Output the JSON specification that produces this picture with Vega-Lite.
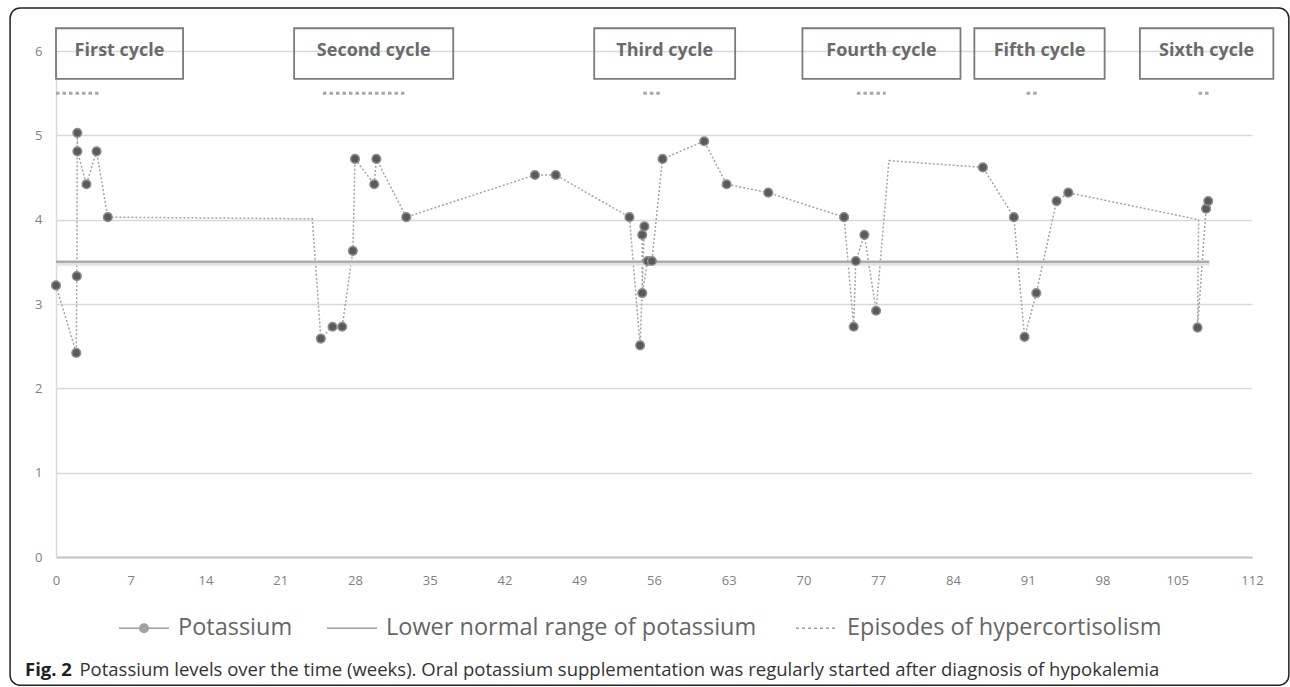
{
  "$schema": "https://vega.github.io/schema/vega-lite/v6.json",
  "width": 1196,
  "height": 506,
  "autosize": {"type": "none"},
  "padding": {"left": 56, "top": 51, "right": 38, "bottom": 130},
  "background": "white",
  "config": {"view": {"stroke": null}, "font": "Open Sans"},
  "datasets": {
    "potassium": [
      {"seq": 1, "week": 0, "k": 3.22, "marker": true},
      {"seq": 2, "week": 1.9, "k": 2.42, "marker": true},
      {"seq": 3, "week": 1.95, "k": 3.33, "marker": true},
      {"seq": 4, "week": 2.0, "k": 5.03, "marker": true},
      {"seq": 5, "week": 2.0, "k": 4.81, "marker": true},
      {"seq": 6, "week": 2.85, "k": 4.42, "marker": true},
      {"seq": 7, "week": 3.8, "k": 4.81, "marker": true},
      {"seq": 8, "week": 4.85, "k": 4.03, "marker": true},
      {"seq": 9, "week": 24.0, "k": 4.01, "marker": false},
      {"seq": 10, "week": 24.8, "k": 2.59, "marker": true},
      {"seq": 11, "week": 25.9, "k": 2.73, "marker": true},
      {"seq": 12, "week": 26.8, "k": 2.73, "marker": true},
      {"seq": 13, "week": 27.8, "k": 3.63, "marker": true},
      {"seq": 14, "week": 28.0, "k": 4.72, "marker": true},
      {"seq": 15, "week": 29.8, "k": 4.42, "marker": true},
      {"seq": 16, "week": 30.0, "k": 4.72, "marker": true},
      {"seq": 17, "week": 32.8, "k": 4.03, "marker": true},
      {"seq": 18, "week": 44.85, "k": 4.53, "marker": true},
      {"seq": 19, "week": 46.8, "k": 4.53, "marker": true},
      {"seq": 20, "week": 53.7, "k": 4.03, "marker": true},
      {"seq": 21, "week": 54.7, "k": 2.51, "marker": true},
      {"seq": 22, "week": 55.1, "k": 3.92, "marker": true},
      {"seq": 23, "week": 54.9, "k": 3.82, "marker": true},
      {"seq": 24, "week": 54.9, "k": 3.13, "marker": true},
      {"seq": 25, "week": 55.4, "k": 3.51, "marker": true},
      {"seq": 26, "week": 55.8, "k": 3.51, "marker": true},
      {"seq": 27, "week": 56.8, "k": 4.72, "marker": true},
      {"seq": 28, "week": 60.7, "k": 4.93, "marker": true},
      {"seq": 29, "week": 62.8, "k": 4.42, "marker": true},
      {"seq": 30, "week": 66.7, "k": 4.32, "marker": true},
      {"seq": 31, "week": 73.8, "k": 4.03, "marker": true},
      {"seq": 32, "week": 74.7, "k": 2.73, "marker": true},
      {"seq": 33, "week": 74.9, "k": 3.51, "marker": true},
      {"seq": 34, "week": 75.7, "k": 3.82, "marker": true},
      {"seq": 35, "week": 76.8, "k": 2.92, "marker": true},
      {"seq": 36, "week": 78.0, "k": 4.7, "marker": false},
      {"seq": 37, "week": 86.8, "k": 4.62, "marker": true},
      {"seq": 38, "week": 89.7, "k": 4.03, "marker": true},
      {"seq": 39, "week": 90.7, "k": 2.61, "marker": true},
      {"seq": 40, "week": 91.8, "k": 3.13, "marker": true},
      {"seq": 41, "week": 93.7, "k": 4.22, "marker": true},
      {"seq": 42, "week": 94.8, "k": 4.32, "marker": true},
      {"seq": 43, "week": 107.0, "k": 4.0, "marker": false},
      {"seq": 44, "week": 106.9, "k": 2.72, "marker": true},
      {"seq": 45, "week": 107.7, "k": 4.13, "marker": true},
      {"seq": 46, "week": 107.9, "k": 4.22, "marker": true}
    ],
    "lowerNormal": [
      {"week": 0, "k": 3.5},
      {"week": 108, "k": 3.5}
    ],
    "episodes": [
      {"cycle": "First cycle", "start": 0, "end": 4.0},
      {"cycle": "Second cycle", "start": 25.0, "end": 32.9},
      {"cycle": "Third cycle", "start": 55.0, "end": 56.8},
      {"cycle": "Fourth cycle", "start": 75.0, "end": 77.7},
      {"cycle": "Fifth cycle", "start": 90.9, "end": 91.9},
      {"cycle": "Sixth cycle", "start": 107.0, "end": 108.0}
    ],
    "cycles": [
      {"label": "First cycle", "start": 0, "end": 11.9},
      {"label": "Second cycle", "start": 22.3, "end": 37.2},
      {"label": "Third cycle", "start": 50.4, "end": 63.6},
      {"label": "Fourth cycle", "start": 69.9, "end": 84.7},
      {"label": "Fifth cycle", "start": 86.0, "end": 98.2},
      {"label": "Sixth cycle", "start": 101.5, "end": 114.0}
    ],
    "series": [
      {"series": "Potassium"},
      {"series": "Lower normal range of potassium"},
      {"series": "Episodes of hypercortisolism"}
    ]
  },
  "layer": [
    {
      "data": {"values": [{}]},
      "mark": {"type": "rect", "fill": "transparent", "stroke": "#222222", "strokeWidth": 1.5, "cornerRadius": 10},
      "encoding": {
        "x": {"datum": -4.3, "type": "quantitative", "scale": {"domain": [0, 112], "nice": false, "zero": false}, "title": null},
        "x2": {"datum": 115.45},
        "y": {"datum": 6.51, "type": "quantitative", "scale": {"domain": [0, 6], "nice": false, "zero": false}, "title": null},
        "y2": {"datum": -1.52}
      }
    },
    {
      "data": {"name": "potassium"},
      "mark": {"type": "line", "color": "#a3a3a3", "strokeWidth": 1.5, "strokeDash": [2, 2]},
      "encoding": {
        "x": {
          "field": "week", "type": "quantitative", "title": null,
          "scale": {"domain": [0, 112], "nice": false, "zero": false},
          "axis": {
            "values": [0, 7, 14, 21, 28, 35, 42, 49, 56, 63, 70, 77, 84, 91, 98, 105, 112],
            "format": "d",
            "grid": false, "ticks": false, "domain": true, "domainColor": "#c4c4c4", "domainWidth": 2,
            "labelColor": "#808080", "labelFontSize": 13, "labelPadding": 17, "labelFont": "Open Sans", "labelFlush": false
          }
        },
        "y": {
          "field": "k", "type": "quantitative", "title": null,
          "scale": {"domain": [0, 6], "nice": false, "zero": false},
          "axis": {
            "values": [0, 1, 2, 3, 4, 5, 6],
            "format": "d",
            "grid": true, "gridColor": "#d9d9d9", "gridWidth": 1.5, "ticks": false,
            "domain": true, "domainColor": "#d9d9d9", "domainWidth": 1.5,
            "labelColor": "#808080", "labelFontSize": 13, "labelPadding": 14, "labelFont": "Open Sans"
          }
        },
        "order": {"field": "seq", "type": "quantitative"}
      }
    },
    {
      "data": {"name": "lowerNormal"},
      "mark": {"type": "line", "color": "#e3e3e3", "strokeWidth": 4, "yOffset": 2},
      "encoding": {
        "x": {"field": "week", "type": "quantitative", "title": null, "scale": {"domain": [0, 112], "nice": false, "zero": false}},
        "y": {"field": "k", "type": "quantitative", "title": null, "scale": {"domain": [0, 6], "nice": false, "zero": false}}
      }
    },
    {
      "data": {"name": "lowerNormal"},
      "mark": {"type": "line", "color": "#acacac", "strokeWidth": 2.5},
      "encoding": {
        "x": {"field": "week", "type": "quantitative", "title": null, "scale": {"domain": [0, 112], "nice": false, "zero": false}},
        "y": {"field": "k", "type": "quantitative", "title": null, "scale": {"domain": [0, 6], "nice": false, "zero": false}}
      }
    },
    {
      "data": {"name": "episodes"},
      "mark": {"type": "rule", "color": "#a8a8a8", "strokeWidth": 3, "strokeDash": [3.5, 3]},
      "encoding": {
        "x": {"field": "start", "type": "quantitative", "title": null, "scale": {"domain": [0, 112], "nice": false, "zero": false}},
        "x2": {"field": "end"},
        "y": {"datum": 5.5, "type": "quantitative", "title": null, "scale": {"domain": [0, 6], "nice": false, "zero": false}}
      }
    },
    {
      "data": {"name": "potassium"},
      "transform": [{"filter": "datum.marker"}],
      "mark": {"type": "point", "filled": true, "fill": "#5a5a5a", "stroke": "#8e8e8e", "strokeWidth": 1.5, "size": 75, "opacity": 1},
      "encoding": {
        "x": {"field": "week", "type": "quantitative", "title": null, "scale": {"domain": [0, 112], "nice": false, "zero": false}},
        "y": {"field": "k", "type": "quantitative", "title": null, "scale": {"domain": [0, 6], "nice": false, "zero": false}}
      }
    },
    {
      "data": {"name": "cycles"},
      "mark": {"type": "rect", "fill": "transparent", "stroke": "#7a7a7a", "strokeWidth": 1.8},
      "encoding": {
        "x": {"field": "start", "type": "quantitative", "title": null, "scale": {"domain": [0, 112], "nice": false, "zero": false}},
        "x2": {"field": "end"},
        "y": {"datum": 6.27, "type": "quantitative", "title": null, "scale": {"domain": [0, 6], "nice": false, "zero": false}},
        "y2": {"datum": 5.67}
      }
    },
    {
      "data": {"name": "cycles"},
      "transform": [{"calculate": "(datum.start + datum.end) / 2", "as": "mid"}],
      "mark": {"type": "text", "font": "Open Sans", "fontWeight": "bold", "fontSize": 18, "color": "#6a6a6a", "align": "center", "baseline": "middle"},
      "encoding": {
        "x": {"field": "mid", "type": "quantitative", "title": null, "scale": {"domain": [0, 112], "nice": false, "zero": false}},
        "y": {"datum": 6.0, "type": "quantitative", "title": null, "scale": {"domain": [0, 6], "nice": false, "zero": false}},
        "text": {"field": "label"}
      }
    },
    {
      "data": {"values": [{}]},
      "mark": {"type": "text", "text": "Fig. 2", "font": "Open Sans", "fontWeight": "bold", "fontSize": 18.5, "color": "#1f1f1f", "align": "left", "baseline": "middle"},
      "encoding": {
        "x": {"datum": -2.9, "type": "quantitative", "title": null, "scale": {"domain": [0, 112], "nice": false, "zero": false}},
        "y": {"datum": -1.34, "type": "quantitative", "title": null, "scale": {"domain": [0, 6], "nice": false, "zero": false}}
      }
    },
    {
      "data": {"values": [{}]},
      "mark": {"type": "text", "text": "Potassium levels over the time (weeks). Oral potassium supplementation was regularly started after diagnosis of hypokalemia", "font": "Open Sans", "fontSize": 18.5, "color": "#333333", "align": "left", "baseline": "middle"},
      "encoding": {
        "x": {"datum": 2.2, "type": "quantitative", "title": null, "scale": {"domain": [0, 112], "nice": false, "zero": false}},
        "y": {"datum": -1.34, "type": "quantitative", "title": null, "scale": {"domain": [0, 6], "nice": false, "zero": false}}
      }
    },
    {
      "data": {"name": "series"},
      "transform": [{"filter": "false"}],
      "mark": {"type": "point", "filled": false, "stroke": "#a0a0a0", "strokeWidth": 1.6},
      "encoding": {
        "shape": {
          "field": "series", "type": "nominal",
          "scale": {
            "domain": ["Potassium", "Lower normal range of potassium", "Episodes of hypercortisolism"],
            "range": [
              "M-1,0H-0.17M0.17,0H1M-0.17,0A0.17,0.17,0,1,1,0.17,0A0.17,0.17,0,1,1,-0.17,0ZM-0.11,0A0.11,0.11,0,1,1,0.11,0A0.11,0.11,0,1,1,-0.11,0ZM-0.05,0A0.05,0.05,0,1,1,0.05,0A0.05,0.05,0,1,1,-0.05,0Z",
              "M-1,0H1",
              "M-0.68,0H-0.56M-0.44,0H-0.32M-0.2,0H-0.08M0.04,0H0.16M0.28,0H0.4M0.52,0H0.64M0.76,0H0.88"
            ]
          },
          "legend": {
            "title": null, "orient": "none", "legendX": 62, "legendY": 551, "direction": "horizontal",
            "symbolSize": 2500, "symbolStrokeColor": "#a0a0a0", "symbolStrokeWidth": 1.6, "symbolOpacity": 1,
            "labelFont": "Open Sans", "labelFontSize": 23.5, "labelColor": "#666666", "labelLimit": 600, "labelOffset": 8,
            "columnPadding": 30
          }
        }
      }
    }
  ]
}
